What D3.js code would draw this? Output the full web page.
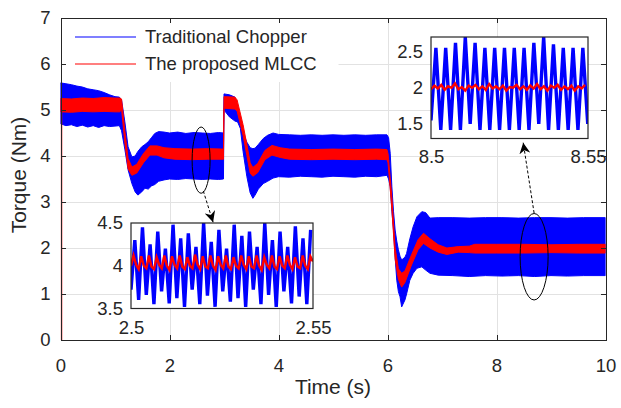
<!DOCTYPE html>
<html>
<head>
<meta charset="utf-8">
<title>Torque</title>
<script src="https://d3js.org/d3.v7.min.js"></script>
<style>
  body { margin: 0; background: #fff; }
  text { font-family: "Liberation Sans", Arial, sans-serif; fill: #262626; }
  .axis path, .axis line { stroke: #262626; shape-rendering: crispEdges; }
  .axis text { font-size: 18.5px; }
  .inax text { font-size: 18.5px; }
  .grid line { stroke: #e2e2e2; shape-rendering: crispEdges; }
</style>
</head>
<body>
<svg id="chart" width="621" height="408"></svg>
<script>
// ---- main plot: envelopes of the two torque signals ----
var blueT = [0.00,0.10,0.20,0.30,0.40,0.50,0.60,0.70,0.80,0.90,1.00,1.08,1.12,1.18,1.24,1.31,1.37,1.42,1.49,1.55,
             1.61,1.67,1.73,1.80,1.90,2.00,2.15,2.30,2.45,2.60,2.75,2.90,2.99,
             3.00,3.10,3.20,3.25,3.30,3.35,3.42,3.48,3.53,3.57,3.63,3.72,3.80,3.90,4.00,4.20,4.40,4.60,4.80,5.00,
             5.20,5.40,5.60,5.80,5.99,
             6.02,6.05,6.08,6.11,6.14,6.17,6.20,6.23,6.26,6.32,6.35,6.41,6.47,6.54,6.63,6.70,6.78,6.93,7.20,7.50,
             7.80,8.10,8.40,8.70,9.00,9.30,9.60,10.00];
var blueHi = [5.59,5.57,5.55,5.52,5.50,5.46,5.44,5.42,5.38,5.33,5.29,5.28,5.22,4.75,4.20,3.98,4.00,4.10,4.20,4.25,
              4.31,4.40,4.49,4.53,4.52,4.50,4.52,4.49,4.51,4.50,4.49,4.51,4.50,
              5.35,5.33,5.28,5.05,4.75,4.50,4.30,4.18,4.16,4.17,4.25,4.38,4.45,4.50,4.47,4.46,4.45,4.46,4.45,4.46,
              4.45,4.46,4.45,4.46,4.46,
              4.40,4.06,3.33,2.80,2.39,2.15,1.96,1.82,1.74,1.80,1.88,2.20,2.46,2.68,2.79,2.77,2.65,2.66,2.66,2.65,
              2.66,2.66,2.65,2.66,2.66,2.65,2.66,2.66];
var blueLo = [4.70,4.66,4.68,4.64,4.67,4.63,4.66,4.62,4.66,4.64,4.65,4.66,4.55,4.15,3.70,3.40,3.22,3.15,3.22,3.30,
              3.28,3.35,3.38,3.45,3.48,3.50,3.49,3.51,3.50,3.49,3.50,3.49,3.50,
              5.00,4.85,4.76,4.74,4.60,4.10,3.55,3.20,3.08,3.15,3.28,3.40,3.45,3.52,3.55,3.54,3.56,3.55,3.54,3.56,
              3.55,3.54,3.56,3.55,3.58,
              3.50,3.33,2.80,2.39,1.80,1.30,1.05,0.94,0.72,0.87,1.00,1.30,1.45,1.56,1.59,1.52,1.45,1.41,1.40,1.38,
              1.40,1.39,1.40,1.38,1.40,1.39,1.40,1.40];

var redT = [0.00,0.20,0.40,0.60,0.80,1.00,1.09,1.12,1.18,1.24,1.31,1.40,1.52,1.64,1.77,1.90,2.10,2.40,2.70,2.99,
            3.00,3.20,3.24,3.35,3.42,3.48,3.53,3.62,3.75,3.88,4.03,4.20,4.60,5.00,5.40,5.80,5.99,
            6.01,6.08,6.14,6.20,6.26,6.32,6.44,6.56,6.66,6.78,6.93,7.09,7.30,7.50,7.60,8.00,8.50,9.00,9.50,10.00];
var redHi = [5.25,5.24,5.26,5.25,5.27,5.26,5.26,5.24,4.55,3.95,3.76,3.82,4.05,4.22,4.22,4.18,4.16,4.15,4.16,4.15,
             5.29,5.28,5.22,4.68,4.25,3.85,3.75,3.84,4.12,4.23,4.18,4.15,4.14,4.15,4.14,4.15,4.14,
             4.05,3.10,2.00,1.55,1.45,1.50,1.85,2.18,2.32,2.20,2.07,2.00,2.03,2.04,2.08,2.08,2.08,2.07,2.08,2.08];
var redLo = [4.96,4.95,4.97,4.96,4.97,4.96,4.96,5.02,4.30,3.72,3.58,3.63,3.85,4.02,4.02,3.96,3.93,3.92,3.93,3.93,
             5.04,5.02,4.98,4.45,4.01,3.63,3.56,3.64,3.92,4.02,3.97,3.93,3.92,3.93,3.92,3.93,3.92,
             3.85,2.85,1.76,1.32,1.15,1.25,1.63,1.96,2.10,2.00,1.91,1.86,1.91,1.90,1.89,1.89,1.89,1.90,1.89,1.89];
// start-up spike of the MLCC trace at t = 0
var redStartT = [0, 0];
var redStartV = [0, 5.1];

// ---- zoomed insets: successive peak / trough samples ----
var in1Blue = [3.72,4.30,3.60,4.45,3.66,4.25,3.55,4.40,3.70,4.20,3.56,4.48,3.62,4.32,3.52,4.38,
               3.72,4.22,3.55,4.50,3.65,4.28,3.52,4.42,3.70,4.20,3.58,4.48,3.62,4.35,3.52,4.40,
               3.72,4.22,3.55,4.50,3.66,4.30,3.52,4.40,3.70,4.22,3.56,4.46,3.64,4.32,3.55,4.42];
var in1Red = [4.00,4.12,4.01,3.96,4.11,4.00,3.97,4.12,3.99,3.96,4.10,4.01,3.97,4.12,4.00,3.95,4.11,4.01,
              3.97,4.12,3.99,3.96,4.10,4.00,3.97,4.13,4.01,3.96,4.11,3.99,3.97,4.12,4.00,3.95,4.11,4.01,
              3.97,4.12,3.99,3.96,4.10,4.00,3.97,4.12,4.01,3.96,4.11,3.99,3.97,4.12,4.00,3.95,4.10,4.01,
              3.97,4.12,3.99,3.96,4.11,4.00,3.97,4.12,4.01,3.96,4.10,3.99,3.97,4.12,4.00,3.96,4.11,4.05];
var in2Blue = [1.55,2.55,1.42,2.55,1.42,2.62,1.42,2.70,1.50,2.62,1.42,2.55,1.42,2.55,1.42,2.55,1.42,
               2.55,1.42,2.55,1.42,2.62,1.50,2.70,1.42,2.60,1.42,2.55,1.42,2.55,1.42,2.55,1.50];
var in2Red = [1.98,2.03,1.99,2.04,1.97,2.02,2.00,2.06,1.98,2.01,1.96,2.03,2.00,2.04,1.98,2.02,
              1.97,2.05,1.99,2.02,1.98,2.03,1.96,2.01,2.00,2.04,1.98,2.02,1.97,2.03,1.99,2.05,
              1.98,2.02,1.96,2.03,2.00,2.04,1.97,2.02,1.98,2.03,1.96,2.02,1.99,2.04];
var in1Step = 0.00105, in1Start = 2.5;
var in2Step = 0.00156, in2Start = 8.5;
var in1RedStep = 0.000704, in2RedStep = 0.00109;

// ---- axes ----
var xTicks = [0, 2, 4, 6, 8, 10];
var yTicks = [0, 1, 2, 3, 4, 5, 6, 7];
var in1XTicks = [2.5, 2.55], in1YTicks = [3.5, 4, 4.5];
var in2XTicks = [8.5, 8.55], in2YTicks = [1.5, 2, 2.5];
var seriesNames = ["Traditional Chopper", "The proposed MLCC"];
var seriesColors = ["#0000ff", "#ff0000"];

// annotations (data coordinates)
var ellipses = [{t: 2.58, v: 3.91, rt: 0.165, rv: 0.72}, {t: 8.69, v: 1.81, rt: 0.257, rv: 0.94}];
var arrows = [{t1: 2.62, v1: 3.24, t2: 2.80, v2: 2.56}, {t1: 8.69, v1: 2.76, t2: 8.49, v2: 4.29}];

var svg = d3.select("#chart");
var L = 60.5, R = 605.5, T = 18, B = 340;

var x = d3.scaleLinear().domain([0, 10]).range([L, R]);
var y = d3.scaleLinear().domain([0, 7]).range([B, T]);

svg.append("defs").append("clipPath").attr("id", "clipMain")
  .append("rect").attr("x", L).attr("y", T).attr("width", R - L).attr("height", B - T);

// grid
var grid = svg.append("g").attr("class", "grid");
grid.selectAll(".gx").data(xTicks.slice(1, -1)).enter().append("line")
  .attr("x1", function(d) { return Math.round(x(d)) + 0.5; })
  .attr("x2", function(d) { return Math.round(x(d)) + 0.5; })
  .attr("y1", T).attr("y2", B);
grid.selectAll(".gy").data(yTicks.slice(1, -1)).enter().append("line")
  .attr("y1", function(d) { return Math.round(y(d)) + 0.5; })
  .attr("y2", function(d) { return Math.round(y(d)) + 0.5; })
  .attr("x1", L).attr("x2", R);

// bands
var plot = svg.append("g").attr("clip-path", "url(#clipMain)");
var blueData = blueT.map(function(t, i) { return {t: t, hi: blueHi[i], lo: blueLo[i]}; });
var redData = redT.map(function(t, i) { return {t: t, hi: redHi[i], lo: redLo[i]}; });

var band = d3.area()
  .x(function(d) { return x(d.t); })
  .y0(function(d) { return y(d.lo); })
  .y1(function(d) { return y(d.hi); });

plot.append("path").datum(blueData).attr("d", band)
  .attr("fill", seriesColors[0]).attr("stroke", seriesColors[0]).attr("stroke-width", 1);
plot.append("path").datum(redData).attr("d", band)
  .attr("fill", seriesColors[1]).attr("stroke", seriesColors[1]).attr("stroke-width", 1);
plot.append("path")
  .datum(redStartT.map(function(t, i) { return [t, redStartV[i]]; }))
  .attr("d", d3.line().x(function(d) { return x(d[0]) + 1; }).y(function(d) { return y(d[1]); }))
  .attr("stroke", seriesColors[1]).attr("stroke-width", 1.5).attr("fill", "none");

// legend
var lg = svg.append("g");
lg.append("rect").attr("x", L + 1).attr("y", T + 1).attr("width", 277).attr("height", 63).attr("fill", "#fff");
seriesNames.forEach(function(name, i) {
  var ly = 37 + i * 27;
  lg.append("line").attr("x1", 75).attr("x2", 136).attr("y1", ly).attr("y2", ly)
    .attr("stroke", seriesColors[i]).attr("stroke-width", 1.2);
  lg.append("text").attr("x", 145).attr("y", ly).attr("dy", "0.35em")
    .style("font-size", "18.5px").text(name);
});

// insets
function drawInset(id, box, xDom, yDom, blue, blueStart, blueStep, red, redStep, xt, yt, xPad) {
  var xi = d3.scaleLinear().domain(xDom).range([box.x0, box.x1]);
  var yi = d3.scaleLinear().domain(yDom).range([box.y1, box.y0]);
  var g = svg.append("g");
  g.append("rect").attr("x", box.x0).attr("y", box.y0)
    .attr("width", box.x1 - box.x0).attr("height", box.y1 - box.y0).attr("fill", "#fff");
  svg.select("defs").append("clipPath").attr("id", id)
    .append("rect").attr("x", box.x0).attr("y", box.y0)
    .attr("width", box.x1 - box.x0).attr("height", box.y1 - box.y0);
  var inner = g.append("g").attr("clip-path", "url(#" + id + ")");
  var ln = d3.line().x(function(d) { return xi(d[0]); }).y(function(d) { return yi(d[1]); });
  inner.append("path")
    .datum(blue.map(function(v, i) { return [blueStart + i * blueStep, v]; }))
    .attr("d", ln).attr("fill", "none").attr("stroke", seriesColors[0]).attr("stroke-width", 3.4)
    .attr("stroke-linejoin", "bevel");
  inner.append("path")
    .datum(red.map(function(v, i) { return [blueStart + i * redStep, v]; }))
    .attr("d", ln).attr("fill", "none").attr("stroke", seriesColors[1]).attr("stroke-width", 2.4);
  g.append("rect").attr("x", box.x0).attr("y", box.y0)
    .attr("width", box.x1 - box.x0).attr("height", box.y1 - box.y0)
    .attr("fill", "none").attr("stroke", "#262626").attr("stroke-width", 1.2);
  var ax = g.append("g").attr("class", "inax").attr("transform", "translate(0," + box.y1 + ")")
    .call(d3.axisBottom(xi).tickValues(xt).tickSize(0).tickPadding(xPad).tickFormat(d3.format("")));
  var ay = g.append("g").attr("class", "inax").attr("transform", "translate(" + box.x0 + ",0)")
    .call(d3.axisLeft(yi).tickValues(yt).tickSize(0).tickPadding(8).tickFormat(d3.format("")));
  ax.select(".domain").remove();
  ay.select(".domain").remove();
}

drawInset("clipIn1", {x0: 131, x1: 313, y0: 223, y1: 308.5}, [2.5, 2.55], [3.5, 4.5],
  in1Blue, in1Start, in1Step, in1Red, in1RedStep, in1XTicks, in1YTicks, 12);
drawInset("clipIn2", {x0: 431, x1: 588, y0: 37, y1: 138.5}, [8.5, 8.55], [1.3, 2.7],
  in2Blue, in2Start, in2Step, in2Red, in2RedStep, in2XTicks, in2YTicks, 11);

// ellipses and arrows
svg.selectAll(".ell").data(ellipses).enter().append("ellipse")
  .attr("cx", function(d) { return x(d.t); })
  .attr("cy", function(d) { return y(d.v); })
  .attr("rx", function(d) { return x(d.rt) - x(0); })
  .attr("ry", function(d) { return y(0) - y(d.rv); })
  .attr("fill", "none").attr("stroke", "#000").attr("stroke-width", 1);

svg.select("defs").append("marker").attr("id", "head")
  .attr("viewBox", "0 0 10 10").attr("refX", 10).attr("refY", 5)
  .attr("markerWidth", 11).attr("markerHeight", 11).attr("markerUnits", "userSpaceOnUse")
  .attr("orient", "auto")
  .append("path").attr("d", "M0,0 L10,5 L0,10 L3,5 Z").attr("fill", "#000");

svg.selectAll(".arr").data(arrows).enter().append("line")
  .attr("x1", function(d) { return x(d.t1); })
  .attr("y1", function(d) { return y(d.v1); })
  .attr("x2", function(d) { return x(d.t2); })
  .attr("y2", function(d) { return y(d.v2); })
  .attr("stroke", "#000").attr("stroke-width", 1)
  .attr("stroke-dasharray", "3,2")
  .attr("marker-end", "url(#head)");

// main axes (ticks inward, box)
svg.append("g").attr("class", "axis").attr("transform", "translate(0," + B + ")")
  .call(d3.axisBottom(x).tickValues(xTicks).tickSize(-5).tickSizeOuter(0).tickPadding(19)
    .tickFormat(d3.format("")));
svg.append("g").attr("class", "axis").attr("transform", "translate(" + L + ",0)")
  .call(d3.axisLeft(y).tickValues(yTicks).tickSize(-5).tickSizeOuter(0).tickPadding(10)
    .tickFormat(d3.format("")));
svg.append("g").attr("class", "axis").attr("transform", "translate(0," + T + ")")
  .call(d3.axisTop(x).tickValues(xTicks).tickSize(-5).tickSizeOuter(0).tickFormat(""));
svg.append("g").attr("class", "axis").attr("transform", "translate(" + R + ",0)")
  .call(d3.axisRight(y).tickValues(yTicks).tickSize(-5).tickSizeOuter(0).tickFormat(""));

svg.append("text").attr("x", (L + R) / 2).attr("y", 394)
  .attr("text-anchor", "middle").style("font-size", "21px").text("Time (s)");
svg.append("text").attr("transform", "translate(26,175) rotate(-90)")
  .attr("text-anchor", "middle").style("font-size", "21px").text("Torque (Nm)");
</script>
</body>
</html>
